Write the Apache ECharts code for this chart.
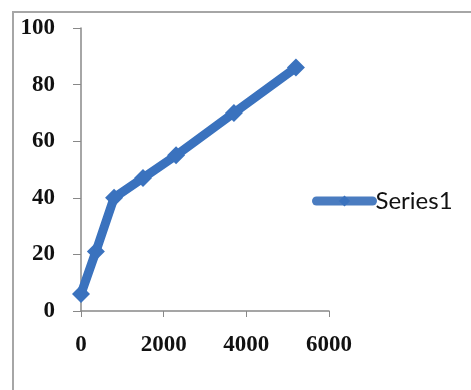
<!DOCTYPE html>
<html>
<head>
<meta charset="utf-8">
<script src="https://cdn.jsdelivr.net/npm/echarts@6/dist/echarts.min.js"></script>
<style>html,body{margin:0;padding:0;background:#fff;}#c{width:471px;height:390px;}</style>
</head>
<body>
<div id="c"></div>
<script>
var seriesName = 'Series1';
var xValues = [0, 360, 800, 1500, 2300, 3700, 5200];
var yValues = [6, 21, 40, 47, 55, 70, 86];
var xTicks = {min: 0, max: 6000, interval: 2000};
var yTicks = {min: 0, max: 100, interval: 20};

var pts = xValues.map(function (x, i) { return [x, yValues[i]]; });
var blue = '#3a72be';
var labelFont = {fontFamily: 'Liberation Serif', fontWeight: 'bold', fontSize: 23, color: '#111'};
var chart = echarts.init(document.getElementById('c'));
chart.setOption({
  animation: false,
  backgroundColor: '#fff',
  graphic: [{type: 'rect', shape: {x: 13, y: 12, width: 600, height: 600}, style: {fill: 'none', stroke: '#a6a6a6', lineWidth: 2}, z: 0}],
  grid: {left: 81, right: 142, top: 28, bottom: 79},
  legend: {
    left: 312, top: 189, padding: 0, itemWidth: 56, itemHeight: 14, itemGap: 0,
    lineStyle: {width: 9, cap: 'round', color: '#4a7cc0'},
    textStyle: {fontFamily: 'Lato', fontSize: 24, color: '#111', padding: [0, 0, 0, -2]},
    data: [seriesName]
  },
  xAxis: {
    type: 'value', min: xTicks.min, max: xTicks.max, interval: xTicks.interval,
    axisLine: {show: true, onZero: false, lineStyle: {color: '#888', width: 1.5}},
    axisTick: {show: true, length: 6, lineStyle: {color: '#888'}},
    splitLine: {show: false},
    axisLabel: Object.assign({margin: 23, formatter: function (v) { return String(v); }}, labelFont)
  },
  yAxis: {
    type: 'value', min: yTicks.min, max: yTicks.max, interval: yTicks.interval,
    axisLine: {show: true, lineStyle: {color: '#888', width: 1.5}},
    axisTick: {show: true, length: 8, lineStyle: {color: '#888'}},
    splitLine: {show: false},
    axisLabel: Object.assign({margin: 26}, labelFont)
  },
  series: [{
    name: seriesName, type: 'line', data: pts,
    symbol: 'diamond', symbolSize: [18, 18],
    lineStyle: {color: blue, width: 9},
    itemStyle: {color: blue}
  }]
});
</script>
</body>
</html>
